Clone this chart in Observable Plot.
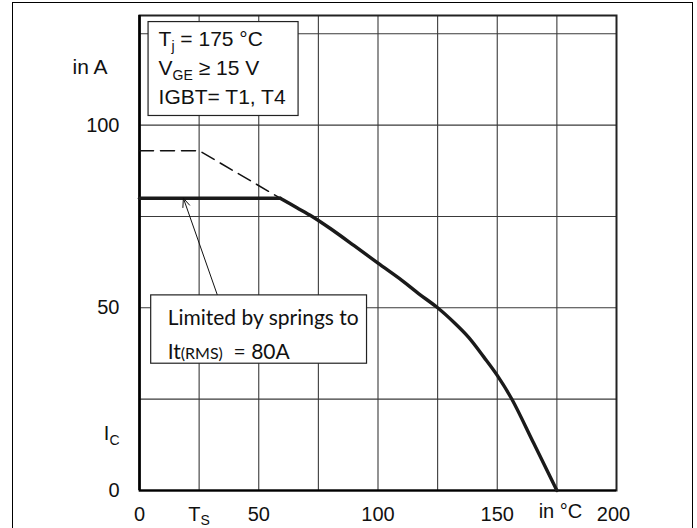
<!DOCTYPE html>
<html><head><meta charset="utf-8">
<script src="https://cdn.jsdelivr.net/npm/d3@7"></script>
<script src="https://cdn.jsdelivr.net/npm/@observablehq/plot@0.6"></script>
<style>
html,body{margin:0;padding:0;background:#fff;overflow:hidden}
#wrap{position:relative;width:697px;height:528px}
#border{position:absolute;left:12px;top:2px;width:681px;height:600px;border:1.5px solid #000;box-sizing:border-box}
#chart{position:absolute;left:0;top:0}
</style></head><body><div id="wrap"><div id="border"></div><div id="chart"></div></div>
<script>
// Solid curve: permitted collector current vs temperature
const tempC = [0, 59, 66, 72.4, 80, 90, 100, 110, 117, 125, 132, 138, 144.4, 150, 156.2, 165.3, 175];
const icA   = [80, 80, 77.4, 75, 71.7, 67, 62.2, 57.5, 53.9, 50, 45.9, 41.9, 36.5, 31.5, 24.9, 12.9, 0];
// Dashed curve (without spring limit)
const limitT = [0, 25, 59];
const limitI = [93, 93, 80];
// Axis labels
const xTickValues = [0, 25, 50, 100, 150, 200];
const xTickLabels = ["0", "T_S", "50", "100", "150", "200"];
const xUnitLabel = "in °C";
const yTickValues = [0, 15.5, 50, 100];
const yTickLabels = ["0", "I_C", "50", "100"];
const yUnitLabel = "in A";
// Grid
const gridX = [25, 50, 75, 100, 125, 150, 175];
const gridY = [25, 50, 75, 100, 125];
// Annotations
const legendLines = ["T_j = 175 °C", "V_GE ≥ 15 V", "IGBT= T1, T4"];
const noteLines = ["Limited by springs to", "It(RMS) = 80A"];

const solid = tempC.map((t, i) => ({t, i: icA[i]}));
const dashed = limitT.map((t, i) => ({t, i: limitI[i]}));
const xt = xTickValues.map((v, k) => ({v, s: xTickLabels[k]}));
const yt = yTickValues.map((v, k) => ({v, s: yTickLabels[k]}));
const knee = tempC[1];

const grid = {stroke: "#3a3a3a", strokeOpacity: 1, strokeWidth: 1.1};

const plot = Plot.plot({
  width: 697, height: 528,
  marginLeft: 139, marginRight: 81, marginTop: 15, marginBottom: 38,
  x: {domain: [0, 200], axis: null},
  y: {domain: [0, 130], axis: null},
  style: {fontFamily: "'Liberation Sans', Arial, sans-serif", fontSize: "20px", background: "transparent", color: "#111", overflow: "visible"},
  marks: [
    Plot.ruleX(gridX, {...grid, y1: 0, y2: 130}),
    Plot.ruleY(gridY, {...grid, x1: 0, x2: 200}),
    Plot.frame({stroke: "#222", strokeWidth: 2}),
    Plot.ruleX([0], {stroke: "#000", strokeWidth: 2.6, y1: 0, y2: 130}),
    Plot.ruleY([0], {stroke: "#000", strokeWidth: 2.2, x1: 0, x2: 200}),
    // y labels
    Plot.text(yt, {x: 0, y: "v", text: "s", textAnchor: "end", dx: -20, fontSize: 20}),
    Plot.text([yUnitLabel], {x: 0, y: 115.8, text: d => d, textAnchor: "end", dx: -32, fontSize: 21}),
    // x labels
    Plot.text(xt.filter(d => d.v < 200), {x: "v", y: 0, text: "s", dy: 24, fontSize: 20}),
    Plot.text(xt.filter(d => d.v === 200), {x: "v", y: 0, text: "s", dy: 24, dx: -3, fontSize: 20}),
    Plot.text([xUnitLabel], {x: 176.5, y: 0, text: d => d, dy: 21, fontSize: 20}),
    // legend box
    Plot.rect([0], {x1: 3.8, x2: 66.7, y1: 102.5, y2: 128.2, fill: "white", stroke: "#222", strokeWidth: 1.2}),
    Plot.text(legendLines, {x: 8, y: (d, k) => 121.6 - k * 7.9, text: d => d, textAnchor: "start", lineAnchor: "bottom", fontSize: 21}),
    // curves
    Plot.line(dashed, {x: "t", y: "i", stroke: "#111", strokeWidth: 1.5, strokeDasharray: "14,7"}),
    Plot.line(solid.filter(d => d.t <= knee), {x: "t", y: "i", stroke: "#1a1a1a", strokeWidth: 3.4}),
    Plot.line(solid.filter(d => d.t >= knee), {x: "t", y: "i", stroke: "#1a1a1a", strokeWidth: 3.4, curve: "catmull-rom", strokeLinejoin: "round"}),
    // note
    Plot.arrow([0], {x1: 32.7, y1: 53.4, x2: 18.4, y2: 80, stroke: "#111", strokeWidth: 1, headLength: 14, headAngle: 45}),
    Plot.rect([0], {x1: 4.9, x2: 95.4, y1: 34.7, y2: 53.4, fill: "white", stroke: "#222", strokeWidth: 1.2}),
    Plot.text(noteLines, {x: 11.8, y: (d, k) => 45.2 - k * 9.1, text: d => d, textAnchor: "start", lineAnchor: "bottom", fontSize: 21, fontFamily: "Lato, 'Open Sans', sans-serif"})
  ]
});
document.getElementById("chart").appendChild(plot);

// Rich text (subscripts) for a few labels
const rich = {
  "T_S": [["T"], ["S", "sub", 4]],
  "I_C": [["I"], ["C", "sub", 5]],
  "T_j = 175 °C": [["T"], ["j", "sub", 5], ["\u00a0= 175 °C"]],
  "V_GE ≥ 15 V": [["V"], ["GE", "sub", 5], ["\u00a0≥ 15 V"]],
  "It(RMS) = 80A": [["It"], ["(RMS)", "small"], ["\u00a0\u00a0= 80A"]]
};
d3.select(plot).selectAll("text").each(function() {
  const segs = rich[this.textContent];
  if (!segs) return;
  const el = d3.select(this);
  el.text(null);
  let shift = 0;
  for (const [s, kind, off] of segs) {
    const ts = el.append("tspan").text(s);
    if (kind === "sub") { ts.attr("dy", off - shift).attr("font-size", 14); shift = off; }
    else if (kind === "small") { ts.attr("font-size", 16); }
    else { if (shift) ts.attr("dy", -shift); shift = 0; }
  }
});
</script></body></html>
